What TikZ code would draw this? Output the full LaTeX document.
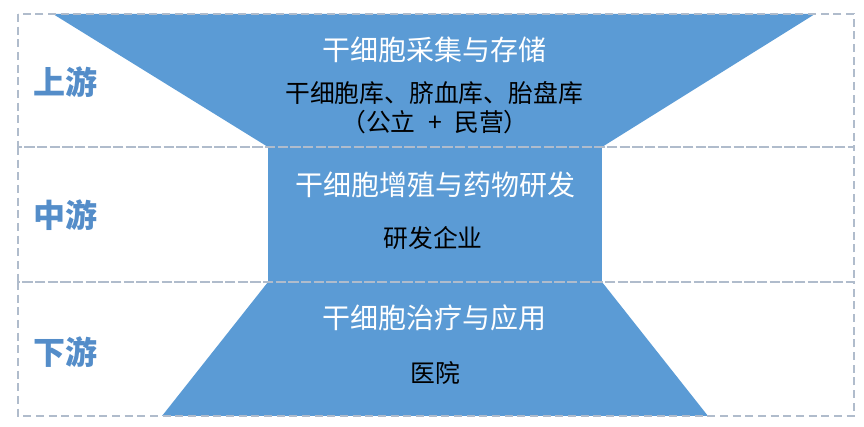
\documentclass[tikz,border=0pt]{standalone}
\usepackage{fontspec}
\usepackage{tikz}
\usetikzlibrary{positioning}
\newfontfamily\cjk{Noto Sans CJK SC}
\definecolor{fillblue}{RGB}{91,155,213}
\definecolor{labelblue}{RGB}{84,141,201}
\definecolor{framegray}{RGB}{176,188,204}

\begin{document}
\begin{tikzpicture}[x=0.75pt, y=-0.75pt]

\tikzset{
    stagebox/.style={draw=framegray, dashed, dash pattern=on 6pt off 3.5pt, line width=0.9pt},
    stagelabel/.style={font=\cjk\bfseries\fontsize{24pt}{26pt}\selectfont, text=labelblue},
    maintitle/.style={font=\cjk\fontsize{21pt}{24pt}\selectfont, text=white},
    subtitle/.style={font=\cjk\fontsize{18.6pt}{21pt}\selectfont, text=black}
}

\useasboundingbox (0,0) rectangle (864,427);

% Funnel shapes
\fill[fillblue] (53,14) -- (815,14) -- (602,147) -- (268,147) -- cycle;
\fill[fillblue] (268,147) rectangle (602,282);
\fill[fillblue] (268,282) -- (602,282) -- (708,416) -- (162,416) -- cycle;

% Dashed rows
\draw[stagebox] (18,14) rectangle (854,147);
\draw[stagebox] (18,147) rectangle (854,282);
\draw[stagebox] (18,282) rectangle (854,416);

% Stage labels
\node[stagelabel] (up) at (65,82) {上游};
\node[stagelabel] (mid) at (65,215) {中游};
\node[stagelabel] (down) at (65,352) {下游};

% Upstream
\node[maintitle] (uptitle) at (434,50) {干细胞采集与存储};
\node[subtitle] (upsub) at (434,93) {干细胞库、脐血库、胎盘库};
\node[subtitle] (upsub2) at (435,122) {（公立\enspace{}+\enspace{}民营）};

% Midstream
\node[maintitle] (midtitle) at (435,185) {干细胞增殖与药物研发};
\node[subtitle] (midsub) at (433,238) {研发企业};

% Downstream
\node[maintitle] (downtitle) at (434,318) {干细胞治疗与应用};
\node[subtitle] (downsub) at (435,373) {医院};

\end{tikzpicture}
\end{document}
